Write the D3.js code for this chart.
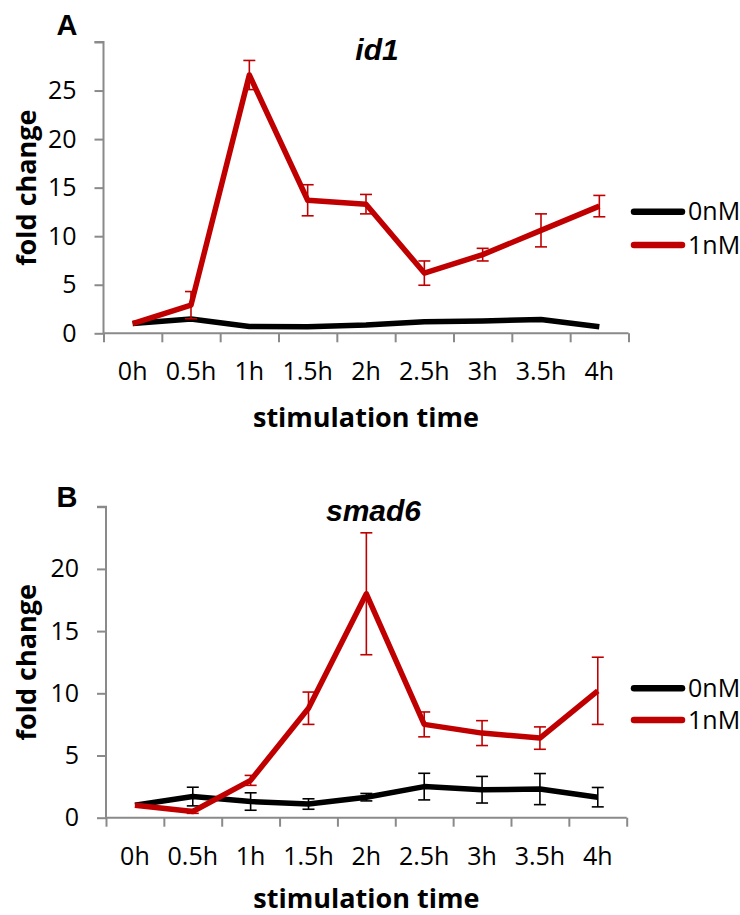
<!DOCTYPE html>
<html>
<head>
<meta charset="utf-8">
<script src="https://cdn.jsdelivr.net/npm/d3@7"></script>
<style>
  html, body { margin: 0; padding: 0; background: #fff; }
  svg { display: block; }
</style>
</head>
<body>
<svg id="chart" width="740" height="915"></svg>
<script>
// Stimulation time points shared by both panels
const timePoints = ["0h", "0.5h", "1h", "1.5h", "2h", "2.5h", "3h", "3.5h", "4h"];
const seriesNames = ["0nM", "1nM"];

// id1 fold change
const id1Ctrl = [1.0, 1.47, 0.7, 0.68, 0.85, 1.2, 1.27, 1.42, 0.68];
const id1Ctrl_err = [0, 0, 0, 0, 0, 0, 0, 0, 0];
const id1Bmp = [1.0, 2.9, 26.6, 13.7, 13.3, 6.2, 8.1, 10.6, 13.1];
const id1Bmp_err = [0, 1.4, 1.5, 1.6, 1.0, 1.25, 0.65, 1.7, 1.1];
const id1Ticks = [0, 5, 10, 15, 20, 25, 30];

// smad6 fold change
const smad6Ctrl = [1.0, 1.7, 1.3, 1.1, 1.65, 2.5, 2.25, 2.3, 1.65];
const smad6Ctrl_err = [0, 0.75, 0.7, 0.42, 0.3, 1.07, 1.07, 1.25, 0.78];
const smad6Bmp = [1.0, 0.5, 3.0, 8.8, 18.0, 7.5, 6.8, 6.4, 10.2];
const smad6Bmp_err = [0, 0.15, 0.4, 1.3, 4.9, 1.0, 1.0, 0.9, 2.7];
const smad6Ticks = [0, 5, 10, 15, 20, 25];

const colors = { "0nM": "#000000", "1nM": "#c00000" };
const svg = d3.select("#chart");
svg.append("rect").attr("width", 740).attr("height", 915).attr("fill", "#fff");

const tickFont = "'Open Sans', 'DejaVu Sans', sans-serif";
const axisGrey = "#8a8a8a";

function drawPanel(cfg) {
  const g = svg.append("g");
  const x = d3.scalePoint().domain(timePoints).range([cfg.left, cfg.right]).padding(0.5);
  const xEdges = d3.scaleLinear().domain([0, timePoints.length]).range([cfg.left, cfg.right]);
  const y = d3.scaleLinear().domain([0, cfg.ymax]).range([cfg.bottom, cfg.top]);

  // y axis
  const yAxis = g.append("g")
    .attr("transform", `translate(${cfg.left},0)`)
    .call(d3.axisLeft(y).tickValues(cfg.ticks).tickSize(9).tickPadding(18)
      .tickFormat(d => d === cfg.ymax ? "" : d));
  // x axis: boundary ticks
  const xAxis = g.append("g")
    .attr("transform", `translate(0,${cfg.bottom})`)
    .call(d3.axisBottom(xEdges).tickValues(d3.range(timePoints.length + 1)).tickSize(9).tickFormat(""));
  [yAxis, xAxis].forEach(a => {
    a.select(".domain").attr("stroke", axisGrey).attr("stroke-width", 2);
    a.selectAll(".tick line").attr("stroke", axisGrey).attr("stroke-width", 2);
  });
  yAxis.select(".domain").attr("d", `M-9,${cfg.top}H0V${cfg.bottom}`);
  xAxis.select(".domain").attr("d", `M${cfg.left},0H${cfg.right}`);
  yAxis.selectAll(".tick text")
    .attr("font-family", tickFont).attr("font-size", 25).attr("fill", "#000");

  // x category labels
  g.append("g").selectAll("text").data(timePoints).join("text")
    .attr("x", d => x(d)).attr("y", cfg.xLabelY)
    .attr("text-anchor", "middle")
    .attr("font-family", tickFont).attr("font-size", 25)
    .text(d => d);

  // axis titles
  g.append("text")
    .attr("x", (cfg.left + cfg.right) / 2).attr("y", cfg.xTitleY)
    .attr("text-anchor", "middle")
    .attr("font-family", tickFont).attr("font-weight", "bold").attr("font-size", 27)
    .text("stimulation time");
  g.append("text")
    .attr("transform", `translate(36,${(cfg.top + cfg.bottom) / 2}) rotate(-90)`)
    .attr("text-anchor", "middle")
    .attr("font-family", tickFont).attr("font-weight", "bold").attr("font-size", 27)
    .text("fold change");

  // panel letter and gene title
  g.append("text")
    .attr("x", 67).attr("y", cfg.letterY)
    .attr("text-anchor", "middle")
    .attr("font-family", "'Liberation Sans', Arial, sans-serif").attr("font-weight", "bold").attr("font-size", 29)
    .text(cfg.letter);
  g.append("text")
    .attr("x", cfg.titleX).attr("y", cfg.titleY)
    .attr("text-anchor", "middle")
    .attr("font-family", "'Liberation Sans', Arial, sans-serif").attr("font-weight", "bold")
    .attr("font-style", "italic").attr("font-size", 30)
    .text(cfg.title);

  // series
  const line = d3.line().x((d, i) => x(timePoints[i])).y(d => y(d));
  cfg.series.forEach(s => {
    const col = colors[s.name];
    g.append("path").datum(s.values)
      .attr("d", line).attr("fill", "none")
      .attr("stroke", col).attr("stroke-width", 5.5)
      .attr("stroke-linejoin", "round");
    const eb = g.append("g").attr("stroke", col).attr("stroke-width", 1.6).attr("fill", "none");
    s.values.forEach((v, i) => {
      const e = s.err[i];
      if (!e) return;
      const cx = x(timePoints[i]);
      eb.append("line").attr("x1", cx).attr("x2", cx).attr("y1", y(v - e)).attr("y2", y(v + e));
      [v - e, v + e].forEach(t => {
        eb.append("line").attr("x1", cx - 6).attr("x2", cx + 6).attr("y1", y(t)).attr("y2", y(t));
      });
    });
  });

  // legend
  seriesNames.forEach((n, i) => {
    const ly = cfg.legendY[i];
    g.append("line").attr("x1", 634).attr("x2", 682).attr("y1", ly).attr("y2", ly)
      .attr("stroke", colors[n]).attr("stroke-width", 6.5).attr("stroke-linecap", "round");
    g.append("text").attr("x", 688).attr("y", ly).attr("dy", "0.35em")
      .attr("font-family", tickFont).attr("font-size", 25)
      .text(n);
  });
}

drawPanel({
  left: 103.5, right: 628.5, top: 42, bottom: 333.3, ymax: 30, ticks: id1Ticks,
  xLabelY: 380, xTitleY: 427, letter: "A", letterY: 35, title: "id1", titleX: 377, titleY: 60,
  legendY: [211.7, 245],
  series: [
    { name: "0nM", values: id1Ctrl, err: id1Ctrl_err },
    { name: "1nM", values: id1Bmp, err: id1Bmp_err }
  ]
});

drawPanel({
  left: 106, right: 626.7, top: 506.7, bottom: 817.7, ymax: 25, ticks: smad6Ticks,
  xLabelY: 865, xTitleY: 908, letter: "B", letterY: 507, title: "smad6", titleX: 373.5, titleY: 521,
  legendY: [688.3, 720],
  series: [
    { name: "0nM", values: smad6Ctrl, err: smad6Ctrl_err },
    { name: "1nM", values: smad6Bmp, err: smad6Bmp_err }
  ]
});
</script>
</body>
</html>
